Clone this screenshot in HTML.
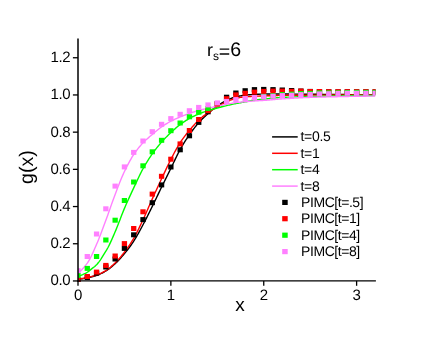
<!DOCTYPE html>
<html><head><meta charset="utf-8"><title>g(x)</title>
<style>html,body{margin:0;padding:0;background:#fff}svg{display:block;will-change:transform}text{font-family:"Liberation Sans",sans-serif;fill:#000;text-rendering:geometricPrecision}</style></head><body>
<svg width="436" height="337" viewBox="0 0 436 337">
<rect x="0" y="0" width="436" height="337" fill="#ffffff"/>
<defs><clipPath id="c"><rect x="78.0" y="38.5" width="297.6" height="243.5"/></clipPath></defs>
<g clip-path="url(#c)">
<polyline fill="none" stroke="#000000" stroke-width="1.4" stroke-linejoin="round" points="78.00,279.51 78.93,279.38 79.86,279.23 80.79,279.08 81.71,278.92 82.64,278.76 83.57,278.58 84.50,278.41 85.43,278.22 86.36,278.03 87.29,277.83 88.22,277.63 89.14,277.43 90.07,277.22 91.00,277.00 91.93,276.77 92.86,276.53 93.79,276.27 94.72,276.00 95.65,275.72 96.57,275.41 97.50,275.08 98.43,274.72 99.36,274.34 100.29,273.92 101.22,273.48 102.15,273.01 103.07,272.53 104.00,272.02 104.93,271.49 105.86,270.95 106.79,270.37 107.72,269.75 108.65,269.09 109.58,268.40 110.50,267.68 111.43,266.92 112.36,266.14 113.29,265.34 114.22,264.52 115.15,263.68 116.08,262.82 117.01,261.91 117.93,260.97 118.86,260.00 119.79,258.99 120.72,257.96 121.65,256.91 122.58,255.83 123.51,254.74 124.44,253.63 125.36,252.50 126.29,251.36 127.22,250.19 128.15,248.99 129.08,247.77 130.01,246.52 130.94,245.23 131.86,243.91 132.79,242.55 133.72,241.15 134.65,239.70 135.58,238.19 136.51,236.62 137.44,235.01 138.37,233.36 139.29,231.67 140.22,229.96 141.15,228.24 142.08,226.50 143.01,224.77 143.94,223.02 144.87,221.23 145.80,219.42 146.72,217.59 147.65,215.73 148.58,213.86 149.51,211.99 150.44,210.10 151.37,208.22 152.30,206.33 153.22,204.45 154.15,202.54 155.08,200.62 156.01,198.70 156.94,196.77 157.87,194.84 158.80,192.91 159.73,190.98 160.65,189.06 161.58,187.16 162.51,185.26 163.44,183.37 164.37,181.49 165.30,179.61 166.23,177.73 167.16,175.85 168.08,173.98 169.01,172.10 169.94,170.23 170.87,168.35 171.80,166.45 172.73,164.52 173.66,162.57 174.58,160.62 175.51,158.67 176.44,156.75 177.37,154.86 178.30,153.02 179.23,151.25 180.16,149.54 181.09,147.90 182.01,146.29 182.94,144.72 183.87,143.18 184.80,141.67 185.73,140.20 186.66,138.76 187.59,137.36 188.52,135.99 189.44,134.65 190.37,133.33 191.30,132.04 192.23,130.78 193.16,129.54 194.09,128.33 195.02,127.14 195.94,125.99 196.87,124.87 197.80,123.78 198.73,122.73 199.66,121.71 200.59,120.72 201.52,119.76 202.45,118.83 203.37,117.92 204.30,117.02 205.23,116.15 206.16,115.29 207.09,114.44 208.02,113.61 208.95,112.78 209.88,111.95 210.80,111.14 211.73,110.34 212.66,109.56 213.59,108.79 214.52,108.05 215.45,107.33 216.38,106.63 217.31,105.97 218.23,105.33 219.16,104.70 220.09,104.09 221.02,103.49 221.95,102.91 222.88,102.36 223.81,101.82 224.73,101.31 225.66,100.84 226.59,100.39 227.52,99.96 228.45,99.54 229.38,99.13 230.31,98.74 231.24,98.36 232.16,98.01 233.09,97.67 234.02,97.37 234.95,97.09 235.88,96.85 236.81,96.63 237.74,96.42 238.67,96.22 239.59,96.03 240.52,95.85 241.45,95.69 242.38,95.54 243.31,95.41 244.24,95.28 245.17,95.17 246.09,95.07 247.02,94.98 247.95,94.89 248.88,94.81 249.81,94.73 250.74,94.66 251.67,94.60 252.60,94.54 253.52,94.48 254.45,94.43 255.38,94.38 256.31,94.33 257.24,94.27 258.17,94.23 259.10,94.18 260.03,94.14 260.95,94.10 261.88,94.08 262.81,94.06 263.74,94.06 264.67,94.06 265.60,94.06 266.53,94.06 267.45,94.06 268.38,94.06 269.31,94.06 270.24,94.06 271.17,94.06 272.10,94.06 273.03,94.06 273.96,94.06 274.88,94.06 275.81,94.06 276.74,94.06 277.67,94.06 278.60,94.06 279.53,94.06 280.46,94.06 281.39,94.06 282.31,94.06 283.24,94.06 284.17,94.06 285.10,94.06 286.03,94.06 286.96,94.06 287.89,94.07 288.81,94.07 289.74,94.08 290.67,94.08 291.60,94.09 292.53,94.09 293.46,94.10 294.39,94.11 295.32,94.12 296.24,94.12 297.17,94.13 298.10,94.14 299.03,94.15 299.96,94.16 300.89,94.16 301.82,94.17 302.75,94.18 303.67,94.19 304.60,94.20 305.53,94.20 306.46,94.21 307.39,94.22 308.32,94.23 309.25,94.23 310.18,94.24 311.10,94.25 312.03,94.26 312.96,94.26 313.89,94.27 314.82,94.28 315.75,94.29 316.68,94.30 317.60,94.30 318.53,94.31 319.46,94.32 320.39,94.33 321.32,94.34 322.25,94.35 323.18,94.36 324.11,94.37 325.03,94.38 325.96,94.39 326.89,94.40 327.82,94.41 328.75,94.42 329.68,94.43 330.61,94.44 331.54,94.45 332.46,94.46 333.39,94.47 334.32,94.48 335.25,94.49 336.18,94.50 337.11,94.51 338.04,94.51 338.96,94.52 339.89,94.53 340.82,94.54 341.75,94.55 342.68,94.55 343.61,94.56 344.54,94.57 345.47,94.57 346.39,94.58 347.32,94.59 348.25,94.59 349.18,94.60 350.11,94.60 351.04,94.60 351.97,94.61 352.90,94.61 353.82,94.61 354.75,94.61 355.68,94.61 356.61,94.61 357.54,94.61 358.47,94.61 359.40,94.61 360.32,94.61 361.25,94.61 362.18,94.61 363.11,94.61 364.04,94.61 364.97,94.61 365.90,94.61 366.83,94.61 367.75,94.61 368.68,94.61 369.61,94.61 370.54,94.61 371.47,94.61 372.40,94.61 373.33,94.61 374.26,94.61 375.18,94.61"/>
<polyline fill="none" stroke="#ff0000" stroke-width="1.4" stroke-linejoin="round" points="78.00,279.14 78.93,279.00 79.86,278.86 80.79,278.71 81.71,278.55 82.64,278.38 83.57,278.21 84.50,278.03 85.43,277.85 86.36,277.66 87.29,277.46 88.22,277.26 89.14,277.06 90.07,276.85 91.00,276.63 91.93,276.40 92.86,276.16 93.79,275.90 94.72,275.63 95.65,275.35 96.57,275.04 97.50,274.71 98.43,274.36 99.36,273.97 100.29,273.56 101.22,273.12 102.15,272.66 103.07,272.17 104.00,271.66 104.93,271.13 105.86,270.57 106.79,269.98 107.72,269.34 108.65,268.66 109.58,267.93 110.50,267.17 111.43,266.37 112.36,265.55 113.29,264.70 114.22,263.83 115.15,262.94 116.08,262.02 117.01,261.06 117.93,260.05 118.86,259.01 119.79,257.93 120.72,256.83 121.65,255.69 122.58,254.53 123.51,253.34 124.44,252.14 125.36,250.91 126.29,249.66 127.22,248.38 128.15,247.07 129.08,245.72 130.01,244.33 130.94,242.90 131.86,241.43 132.79,239.92 133.72,238.36 134.65,236.73 135.58,235.03 136.51,233.25 137.44,231.41 138.37,229.53 139.29,227.61 140.22,225.66 141.15,223.69 142.08,221.71 143.01,219.74 143.94,217.75 144.87,215.71 145.80,213.63 146.72,211.53 147.65,209.41 148.58,207.29 149.51,205.16 150.44,203.05 151.37,200.95 152.30,198.89 153.22,196.84 154.15,194.80 155.08,192.78 156.01,190.75 156.94,188.74 157.87,186.73 158.80,184.73 159.73,182.74 160.65,180.75 161.58,178.78 162.51,176.80 163.44,174.81 164.37,172.83 165.30,170.84 166.23,168.87 167.16,166.92 168.08,164.99 169.01,163.09 169.94,161.23 170.87,159.41 171.80,157.61 172.73,155.82 173.66,154.04 174.58,152.29 175.51,150.56 176.44,148.87 177.37,147.23 178.30,145.64 179.23,144.11 180.16,142.65 181.09,141.26 182.01,139.92 182.94,138.62 183.87,137.36 184.80,136.13 185.73,134.94 186.66,133.77 187.59,132.62 188.52,131.49 189.44,130.36 190.37,129.25 191.30,128.15 192.23,127.05 193.16,125.98 194.09,124.93 195.02,123.90 195.94,122.90 196.87,121.93 197.80,121.01 198.73,120.12 199.66,119.27 200.59,118.45 201.52,117.66 202.45,116.88 203.37,116.13 204.30,115.41 205.23,114.70 206.16,114.01 207.09,113.33 208.02,112.68 208.95,112.04 209.88,111.41 210.80,110.81 211.73,110.22 212.66,109.65 213.59,109.08 214.52,108.53 215.45,107.98 216.38,107.44 217.31,106.90 218.23,106.36 219.16,105.83 220.09,105.29 221.02,104.76 221.95,104.24 222.88,103.73 223.81,103.23 224.73,102.76 225.66,102.30 226.59,101.88 227.52,101.46 228.45,101.04 229.38,100.63 230.31,100.23 231.24,99.85 232.16,99.49 233.09,99.15 234.02,98.84 234.95,98.57 235.88,98.34 236.81,98.13 237.74,97.94 238.67,97.76 239.59,97.59 240.52,97.43 241.45,97.29 242.38,97.16 243.31,97.04 244.24,96.94 245.17,96.85 246.09,96.77 247.02,96.70 247.95,96.64 248.88,96.58 249.81,96.52 250.74,96.47 251.67,96.42 252.60,96.38 253.52,96.33 254.45,96.29 255.38,96.25 256.31,96.20 257.24,96.16 258.17,96.13 259.10,96.09 260.03,96.05 260.95,96.02 261.88,95.98 262.81,95.95 263.74,95.92 264.67,95.88 265.60,95.85 266.53,95.82 267.45,95.78 268.38,95.75 269.31,95.71 270.24,95.68 271.17,95.65 272.10,95.61 273.03,95.58 273.96,95.55 274.88,95.52 275.81,95.50 276.74,95.47 277.67,95.45 278.60,95.42 279.53,95.40 280.46,95.39 281.39,95.37 282.31,95.36 283.24,95.35 284.17,95.34 285.10,95.33 286.03,95.32 286.96,95.31 287.89,95.30 288.81,95.30 289.74,95.29 290.67,95.28 291.60,95.27 292.53,95.27 293.46,95.26 294.39,95.25 295.32,95.25 296.24,95.24 297.17,95.24 298.10,95.23 299.03,95.23 299.96,95.22 300.89,95.22 301.82,95.21 302.75,95.21 303.67,95.20 304.60,95.20 305.53,95.20 306.46,95.19 307.39,95.19 308.32,95.18 309.25,95.18 310.18,95.17 311.10,95.17 312.03,95.16 312.96,95.16 313.89,95.15 314.82,95.15 315.75,95.14 316.68,95.14 317.60,95.13 318.53,95.13 319.46,95.12 320.39,95.12 321.32,95.11 322.25,95.11 323.18,95.10 324.11,95.10 325.03,95.09 325.96,95.09 326.89,95.08 327.82,95.08 328.75,95.07 329.68,95.07 330.61,95.06 331.54,95.06 332.46,95.05 333.39,95.05 334.32,95.05 335.25,95.04 336.18,95.04 337.11,95.03 338.04,95.03 338.96,95.03 339.89,95.02 340.82,95.02 341.75,95.01 342.68,95.01 343.61,95.01 344.54,95.01 345.47,95.00 346.39,95.00 347.32,95.00 348.25,95.00 349.18,94.99 350.11,94.99 351.04,94.99 351.97,94.99 352.90,94.99 353.82,94.99 354.75,94.99 355.68,94.99 356.61,94.99 357.54,94.99 358.47,94.99 359.40,94.99 360.32,94.99 361.25,94.99 362.18,94.99 363.11,94.99 364.04,94.99 364.97,94.99 365.90,94.99 366.83,94.99 367.75,94.99 368.68,94.99 369.61,94.99 370.54,94.99 371.47,94.99 372.40,94.99 373.33,94.99 374.26,94.99 375.18,94.99"/>
<polyline fill="none" stroke="#00ff00" stroke-width="1.4" stroke-linejoin="round" points="78.00,275.97 78.93,275.82 79.86,275.59 80.79,275.31 81.71,274.98 82.64,274.60 83.57,274.18 84.50,273.73 85.43,273.26 86.36,272.76 87.29,272.25 88.22,271.65 89.14,270.92 90.07,270.14 91.00,269.36 91.93,268.63 92.86,267.91 93.79,267.18 94.72,266.42 95.65,265.60 96.57,264.71 97.50,263.70 98.43,262.56 99.36,261.34 100.29,260.05 101.22,258.66 102.15,257.15 103.07,255.59 104.00,254.08 104.93,252.63 105.86,251.19 106.79,249.67 107.72,248.01 108.65,246.23 109.58,244.35 110.50,242.39 111.43,240.36 112.36,238.27 113.29,236.15 114.22,234.00 115.15,231.84 116.08,229.64 117.01,227.34 117.93,224.98 118.86,222.58 119.79,220.15 120.72,217.72 121.65,215.31 122.58,212.93 123.51,210.62 124.44,208.38 125.36,206.22 126.29,204.09 127.22,201.99 128.15,199.92 129.08,197.88 130.01,195.86 130.94,193.86 131.86,191.87 132.79,189.88 133.72,187.90 134.65,185.91 135.58,183.91 136.51,181.90 137.44,179.91 138.37,177.93 139.29,175.99 140.22,174.08 141.15,172.23 142.08,170.44 143.01,168.72 143.94,167.06 144.87,165.45 145.80,163.87 146.72,162.32 147.65,160.82 148.58,159.35 149.51,157.92 150.44,156.52 151.37,155.15 152.30,153.83 153.22,152.53 154.15,151.26 155.08,150.02 156.01,148.81 156.94,147.63 157.87,146.48 158.80,145.34 159.73,144.24 160.65,143.16 161.58,142.09 162.51,141.06 163.44,140.04 164.37,139.05 165.30,138.07 166.23,137.12 167.16,136.18 168.08,135.27 169.01,134.36 169.94,133.47 170.87,132.60 171.80,131.73 172.73,130.88 173.66,130.03 174.58,129.20 175.51,128.38 176.44,127.58 177.37,126.80 178.30,126.04 179.23,125.30 180.16,124.59 181.09,123.90 182.01,123.23 182.94,122.57 183.87,121.92 184.80,121.30 185.73,120.69 186.66,120.10 187.59,119.53 188.52,118.98 189.44,118.45 190.37,117.94 191.30,117.44 192.23,116.96 193.16,116.50 194.09,116.05 195.02,115.61 195.94,115.18 196.87,114.77 197.80,114.37 198.73,113.98 199.66,113.60 200.59,113.23 201.52,112.88 202.45,112.53 203.37,112.19 204.30,111.86 205.23,111.54 206.16,111.23 207.09,110.92 208.02,110.63 208.95,110.34 209.88,110.06 210.80,109.79 211.73,109.53 212.66,109.27 213.59,109.02 214.52,108.77 215.45,108.52 216.38,108.27 217.31,108.02 218.23,107.77 219.16,107.52 220.09,107.27 221.02,107.02 221.95,106.77 222.88,106.53 223.81,106.29 224.73,106.06 225.66,105.82 226.59,105.60 227.52,105.38 228.45,105.16 229.38,104.95 230.31,104.74 231.24,104.53 232.16,104.32 233.09,104.12 234.02,103.93 234.95,103.74 235.88,103.55 236.81,103.37 237.74,103.20 238.67,103.03 239.59,102.87 240.52,102.70 241.45,102.54 242.38,102.38 243.31,102.22 244.24,102.05 245.17,101.88 246.09,101.69 247.02,101.50 247.95,101.29 248.88,101.09 249.81,100.88 250.74,100.68 251.67,100.49 252.60,100.31 253.52,100.15 254.45,100.01 255.38,99.89 256.31,99.79 257.24,99.69 258.17,99.59 259.10,99.50 260.03,99.42 260.95,99.34 261.88,99.25 262.81,99.17 263.74,99.08 264.67,98.99 265.60,98.90 266.53,98.81 267.45,98.71 268.38,98.62 269.31,98.52 270.24,98.42 271.17,98.33 272.10,98.23 273.03,98.14 273.96,98.05 274.88,97.96 275.81,97.88 276.74,97.79 277.67,97.72 278.60,97.64 279.53,97.58 280.46,97.51 281.39,97.46 282.31,97.41 283.24,97.36 284.17,97.32 285.10,97.27 286.03,97.23 286.96,97.19 287.89,97.15 288.81,97.12 289.74,97.08 290.67,97.04 291.60,97.01 292.53,96.98 293.46,96.94 294.39,96.91 295.32,96.88 296.24,96.85 297.17,96.82 298.10,96.80 299.03,96.77 299.96,96.74 300.89,96.72 301.82,96.69 302.75,96.67 303.67,96.64 304.60,96.62 305.53,96.59 306.46,96.57 307.39,96.55 308.32,96.52 309.25,96.50 310.18,96.48 311.10,96.45 312.03,96.43 312.96,96.41 313.89,96.39 314.82,96.37 315.75,96.35 316.68,96.33 317.60,96.31 318.53,96.29 319.46,96.27 320.39,96.25 321.32,96.23 322.25,96.21 323.18,96.20 324.11,96.18 325.03,96.16 325.96,96.14 326.89,96.13 327.82,96.11 328.75,96.09 329.68,96.08 330.61,96.06 331.54,96.04 332.46,96.02 333.39,96.01 334.32,95.99 335.25,95.97 336.18,95.95 337.11,95.94 338.04,95.92 338.96,95.90 339.89,95.88 340.82,95.85 341.75,95.83 342.68,95.81 343.61,95.78 344.54,95.76 345.47,95.73 346.39,95.71 347.32,95.68 348.25,95.66 349.18,95.64 350.11,95.62 351.04,95.60 351.97,95.59 352.90,95.57 353.82,95.56 354.75,95.55 355.68,95.55 356.61,95.54 357.54,95.54 358.47,95.54 359.40,95.54 360.32,95.54 361.25,95.54 362.18,95.54 363.11,95.54 364.04,95.54 364.97,95.54 365.90,95.54 366.83,95.54 367.75,95.54 368.68,95.54 369.61,95.54 370.54,95.54 371.47,95.54 372.40,95.54 373.33,95.54 374.26,95.54 375.18,95.54"/>
<polyline fill="none" stroke="#ff80ff" stroke-width="1.4" stroke-linejoin="round" points="78.00,272.62 78.93,272.08 79.86,271.42 80.79,270.65 81.71,269.79 82.64,268.85 83.57,267.82 84.50,266.73 85.43,265.57 86.36,264.37 87.29,263.12 88.22,261.77 89.14,260.23 90.07,258.54 91.00,256.71 91.93,254.78 92.86,252.76 93.79,250.69 94.72,248.57 95.65,246.44 96.57,244.32 97.50,242.16 98.43,239.92 99.36,237.60 100.29,235.22 101.22,232.79 102.15,230.32 103.07,227.82 104.00,225.31 104.93,222.80 105.86,220.30 106.79,217.77 107.72,215.20 108.65,212.58 109.58,209.93 110.50,207.28 111.43,204.63 112.36,202.01 113.29,199.42 114.22,196.89 115.15,194.42 116.08,191.98 117.01,189.55 117.93,187.12 118.86,184.73 119.79,182.36 120.72,180.05 121.65,177.79 122.58,175.61 123.51,173.51 124.44,171.51 125.36,169.59 126.29,167.70 127.22,165.86 128.15,164.08 129.08,162.34 130.01,160.66 130.94,159.04 131.86,157.48 132.79,155.99 133.72,154.57 134.65,153.21 135.58,151.89 136.51,150.61 137.44,149.38 138.37,148.19 139.29,147.05 140.22,145.94 141.15,144.87 142.08,143.84 143.01,142.84 143.94,141.89 144.87,140.97 145.80,140.10 146.72,139.25 147.65,138.43 148.58,137.62 149.51,136.83 150.44,136.04 151.37,135.25 152.30,134.46 153.22,133.66 154.15,132.85 155.08,132.04 156.01,131.24 156.94,130.45 157.87,129.68 158.80,128.92 159.73,128.19 160.65,127.49 161.58,126.83 162.51,126.19 163.44,125.57 164.37,124.98 165.30,124.40 166.23,123.83 167.16,123.29 168.08,122.75 169.01,122.24 169.94,121.73 170.87,121.24 171.80,120.76 172.73,120.30 173.66,119.85 174.58,119.41 175.51,118.98 176.44,118.56 177.37,118.15 178.30,117.74 179.23,117.35 180.16,116.96 181.09,116.57 182.01,116.20 182.94,115.83 183.87,115.47 184.80,115.11 185.73,114.76 186.66,114.42 187.59,114.08 188.52,113.75 189.44,113.42 190.37,113.10 191.30,112.78 192.23,112.46 193.16,112.15 194.09,111.85 195.02,111.55 195.94,111.26 196.87,110.97 197.80,110.70 198.73,110.44 199.66,110.19 200.59,109.95 201.52,109.72 202.45,109.49 203.37,109.27 204.30,109.06 205.23,108.84 206.16,108.63 207.09,108.42 208.02,108.21 208.95,107.99 209.88,107.78 210.80,107.57 211.73,107.36 212.66,107.16 213.59,106.95 214.52,106.75 215.45,106.55 216.38,106.35 217.31,106.16 218.23,105.96 219.16,105.77 220.09,105.58 221.02,105.39 221.95,105.20 222.88,105.02 223.81,104.83 224.73,104.65 225.66,104.47 226.59,104.30 227.52,104.12 228.45,103.93 229.38,103.75 230.31,103.57 231.24,103.39 232.16,103.21 233.09,103.05 234.02,102.89 234.95,102.75 235.88,102.62 236.81,102.50 237.74,102.40 238.67,102.30 239.59,102.20 240.52,102.11 241.45,102.02 242.38,101.94 243.31,101.85 244.24,101.77 245.17,101.69 246.09,101.61 247.02,101.53 247.95,101.45 248.88,101.37 249.81,101.29 250.74,101.22 251.67,101.15 252.60,101.08 253.52,101.01 254.45,100.94 255.38,100.88 256.31,100.82 257.24,100.77 258.17,100.72 259.10,100.66 260.03,100.61 260.95,100.56 261.88,100.50 262.81,100.45 263.74,100.39 264.67,100.32 265.60,100.25 266.53,100.18 267.45,100.11 268.38,100.03 269.31,99.96 270.24,99.88 271.17,99.80 272.10,99.72 273.03,99.64 273.96,99.55 274.88,99.47 275.81,99.39 276.74,99.32 277.67,99.24 278.60,99.17 279.53,99.09 280.46,99.02 281.39,98.96 282.31,98.90 283.24,98.84 284.17,98.78 285.10,98.72 286.03,98.66 286.96,98.60 287.89,98.54 288.81,98.48 289.74,98.43 290.67,98.37 291.60,98.32 292.53,98.26 293.46,98.21 294.39,98.15 295.32,98.10 296.24,98.05 297.17,98.00 298.10,97.95 299.03,97.90 299.96,97.85 300.89,97.81 301.82,97.76 302.75,97.72 303.67,97.67 304.60,97.63 305.53,97.59 306.46,97.55 307.39,97.51 308.32,97.48 309.25,97.44 310.18,97.41 311.10,97.37 312.03,97.34 312.96,97.31 313.89,97.28 314.82,97.25 315.75,97.22 316.68,97.19 317.60,97.17 318.53,97.14 319.46,97.11 320.39,97.09 321.32,97.06 322.25,97.04 323.18,97.01 324.11,96.99 325.03,96.97 325.96,96.94 326.89,96.92 327.82,96.90 328.75,96.88 329.68,96.85 330.61,96.83 331.54,96.81 332.46,96.79 333.39,96.77 334.32,96.75 335.25,96.73 336.18,96.70 337.11,96.68 338.04,96.66 338.96,96.64 339.89,96.62 340.82,96.60 341.75,96.58 342.68,96.56 343.61,96.54 344.54,96.51 345.47,96.49 346.39,96.47 347.32,96.45 348.25,96.43 349.18,96.42 350.11,96.40 351.04,96.38 351.97,96.36 352.90,96.35 353.82,96.33 354.75,96.32 355.68,96.30 356.61,96.29 357.54,96.28 358.47,96.27 359.40,96.25 360.32,96.24 361.25,96.23 362.18,96.22 363.11,96.21 364.04,96.20 364.97,96.19 365.90,96.18 366.83,96.17 367.75,96.16 368.68,96.15 369.61,96.14 370.54,96.13 371.47,96.13 372.40,96.12 373.33,96.11 374.26,96.11 375.18,96.10"/>
<g fill="#000000"><rect x="75.35" y="277.80" width="5.3" height="5.0"/><rect x="84.64" y="275.00" width="5.3" height="5.0"/><rect x="93.92" y="270.70" width="5.3" height="5.0"/><rect x="103.21" y="264.50" width="5.3" height="5.0"/><rect x="112.50" y="256.50" width="5.3" height="5.0"/><rect x="121.78" y="245.90" width="5.3" height="5.0"/><rect x="131.07" y="232.30" width="5.3" height="5.0"/><rect x="140.36" y="217.10" width="5.3" height="5.0"/><rect x="149.65" y="200.20" width="5.3" height="5.0"/><rect x="158.93" y="182.40" width="5.3" height="5.0"/><rect x="168.22" y="164.50" width="5.3" height="5.0"/><rect x="177.51" y="147.30" width="5.3" height="5.0"/><rect x="186.79" y="133.30" width="5.3" height="5.0"/><rect x="196.08" y="119.90" width="5.3" height="5.0"/><rect x="205.37" y="109.30" width="5.3" height="5.0"/><rect x="214.66" y="101.10" width="5.3" height="5.0"/><rect x="223.94" y="94.70" width="5.3" height="5.0"/><rect x="233.23" y="90.50" width="5.3" height="5.0"/><rect x="242.52" y="88.20" width="5.3" height="5.0"/><rect x="251.80" y="87.10" width="5.3" height="5.0"/><rect x="261.09" y="86.90" width="5.3" height="5.0"/><rect x="270.38" y="87.10" width="5.3" height="5.0"/><rect x="279.66" y="87.50" width="5.3" height="5.0"/><rect x="288.95" y="88.00" width="5.3" height="5.0"/><rect x="298.24" y="88.50" width="5.3" height="5.0"/><rect x="307.53" y="88.90" width="5.3" height="5.0"/><rect x="316.81" y="89.10" width="5.3" height="5.0"/><rect x="326.10" y="89.30" width="5.3" height="5.0"/><rect x="335.39" y="89.40" width="5.3" height="5.0"/><rect x="344.67" y="89.30" width="5.3" height="5.0"/><rect x="353.96" y="89.30" width="5.3" height="5.0"/><rect x="363.25" y="89.30" width="5.3" height="5.0"/><rect x="372.53" y="89.30" width="5.3" height="5.0"/></g>
<g fill="#ff0000"><rect x="75.35" y="276.80" width="5.3" height="5.0"/><rect x="84.64" y="274.00" width="5.3" height="5.0"/><rect x="93.92" y="269.60" width="5.3" height="5.0"/><rect x="103.21" y="262.90" width="5.3" height="5.0"/><rect x="112.50" y="253.50" width="5.3" height="5.0"/><rect x="121.78" y="241.10" width="5.3" height="5.0"/><rect x="131.07" y="226.00" width="5.3" height="5.0"/><rect x="140.36" y="209.30" width="5.3" height="5.0"/><rect x="149.65" y="191.60" width="5.3" height="5.0"/><rect x="158.93" y="173.80" width="5.3" height="5.0"/><rect x="168.22" y="156.70" width="5.3" height="5.0"/><rect x="177.51" y="141.40" width="5.3" height="5.0"/><rect x="186.79" y="128.00" width="5.3" height="5.0"/><rect x="196.08" y="117.00" width="5.3" height="5.0"/><rect x="205.37" y="108.20" width="5.3" height="5.0"/><rect x="214.66" y="101.50" width="5.3" height="5.0"/><rect x="223.94" y="96.20" width="5.3" height="5.0"/><rect x="233.23" y="92.40" width="5.3" height="5.0"/><rect x="242.52" y="90.80" width="5.3" height="5.0"/><rect x="251.80" y="89.60" width="5.3" height="5.0"/><rect x="261.09" y="88.90" width="5.3" height="5.0"/><rect x="270.38" y="88.60" width="5.3" height="5.0"/><rect x="279.66" y="88.60" width="5.3" height="5.0"/><rect x="288.95" y="88.80" width="5.3" height="5.0"/><rect x="298.24" y="88.60" width="5.3" height="5.0"/><rect x="307.53" y="89.00" width="5.3" height="5.0"/><rect x="316.81" y="89.00" width="5.3" height="5.0"/><rect x="326.10" y="89.20" width="5.3" height="5.0"/><rect x="335.39" y="89.20" width="5.3" height="5.0"/><rect x="344.67" y="89.20" width="5.3" height="5.0"/><rect x="353.96" y="89.20" width="5.3" height="5.0"/><rect x="363.25" y="89.20" width="5.3" height="5.0"/><rect x="372.53" y="89.20" width="5.3" height="5.0"/></g>
<g fill="#00ff00"><rect x="75.35" y="272.90" width="5.3" height="5.0"/><rect x="84.64" y="265.90" width="5.3" height="5.0"/><rect x="93.92" y="254.00" width="5.3" height="5.0"/><rect x="103.21" y="237.50" width="5.3" height="5.0"/><rect x="112.50" y="217.70" width="5.3" height="5.0"/><rect x="121.78" y="198.00" width="5.3" height="5.0"/><rect x="131.07" y="179.50" width="5.3" height="5.0"/><rect x="140.36" y="163.30" width="5.3" height="5.0"/><rect x="149.65" y="149.30" width="5.3" height="5.0"/><rect x="158.93" y="137.80" width="5.3" height="5.0"/><rect x="168.22" y="128.20" width="5.3" height="5.0"/><rect x="177.51" y="120.50" width="5.3" height="5.0"/><rect x="186.79" y="114.30" width="5.3" height="5.0"/><rect x="196.08" y="109.70" width="5.3" height="5.0"/><rect x="205.37" y="106.00" width="5.3" height="5.0"/><rect x="261.09" y="93.90" width="5.3" height="5.0"/><rect x="270.38" y="93.20" width="5.3" height="5.0"/><rect x="279.66" y="92.10" width="5.3" height="5.0"/><rect x="288.95" y="91.60" width="5.3" height="5.0"/><rect x="298.24" y="91.00" width="5.3" height="5.0"/><rect x="307.53" y="90.90" width="5.3" height="5.0"/><rect x="316.81" y="90.40" width="5.3" height="5.0"/><rect x="326.10" y="90.40" width="5.3" height="5.0"/><rect x="335.39" y="90.30" width="5.3" height="5.0"/><rect x="344.67" y="90.00" width="5.3" height="5.0"/><rect x="353.96" y="89.90" width="5.3" height="5.0"/><rect x="363.25" y="89.90" width="5.3" height="5.0"/><rect x="372.53" y="89.90" width="5.3" height="5.0"/></g>
<g fill="#ff80ff"><rect x="75.35" y="268.20" width="5.3" height="5.0"/><rect x="84.64" y="254.00" width="5.3" height="5.0"/><rect x="93.92" y="231.50" width="5.3" height="5.0"/><rect x="103.21" y="206.30" width="5.3" height="5.0"/><rect x="112.50" y="183.60" width="5.3" height="5.0"/><rect x="121.78" y="164.40" width="5.3" height="5.0"/><rect x="131.07" y="149.90" width="5.3" height="5.0"/><rect x="140.36" y="138.50" width="5.3" height="5.0"/><rect x="149.65" y="129.20" width="5.3" height="5.0"/><rect x="158.93" y="121.80" width="5.3" height="5.0"/><rect x="168.22" y="116.10" width="5.3" height="5.0"/><rect x="177.51" y="111.80" width="5.3" height="5.0"/><rect x="186.79" y="108.20" width="5.3" height="5.0"/><rect x="196.08" y="104.90" width="5.3" height="5.0"/><rect x="205.37" y="102.40" width="5.3" height="5.0"/><rect x="214.66" y="100.40" width="5.3" height="5.0"/><rect x="223.94" y="98.90" width="5.3" height="5.0"/><rect x="233.23" y="97.10" width="5.3" height="5.0"/><rect x="242.52" y="96.00" width="5.3" height="5.0"/><rect x="251.80" y="95.00" width="5.3" height="5.0"/><rect x="261.09" y="94.30" width="5.3" height="5.0"/><rect x="270.38" y="93.70" width="5.3" height="5.0"/><rect x="279.66" y="93.10" width="5.3" height="5.0"/><rect x="288.95" y="92.70" width="5.3" height="5.0"/><rect x="298.24" y="92.10" width="5.3" height="5.0"/><rect x="307.53" y="91.90" width="5.3" height="5.0"/><rect x="316.81" y="91.40" width="5.3" height="5.0"/><rect x="326.10" y="91.20" width="5.3" height="5.0"/><rect x="335.39" y="90.90" width="5.3" height="5.0"/><rect x="344.67" y="90.70" width="5.3" height="5.0"/><rect x="353.96" y="90.70" width="5.3" height="5.0"/><rect x="363.25" y="90.70" width="5.3" height="5.0"/><rect x="372.53" y="90.70" width="5.3" height="5.0"/></g>
</g>
<g stroke="#000" stroke-width="1.5" fill="none" stroke-linecap="butt">
<line x1="78.00" y1="38.50" x2="78.00" y2="281.65"/>
<line x1="77.25" y1="280.90" x2="375.90" y2="280.90" stroke-width="1.4"/>
</g>
<g stroke="#000" stroke-width="1.3" fill="none" stroke-linecap="butt">
<line x1="78.00" y1="280.90" x2="78.00" y2="285.80"/>
<line x1="170.87" y1="280.90" x2="170.87" y2="285.80"/>
<line x1="263.74" y1="280.90" x2="263.74" y2="285.80"/>
<line x1="356.61" y1="280.90" x2="356.61" y2="285.80"/>
<line x1="78.00" y1="280.95" x2="72.90" y2="280.95"/>
<line x1="78.00" y1="243.75" x2="72.90" y2="243.75"/>
<line x1="78.00" y1="206.55" x2="72.90" y2="206.55"/>
<line x1="78.00" y1="169.35" x2="72.90" y2="169.35"/>
<line x1="78.00" y1="132.15" x2="72.90" y2="132.15"/>
<line x1="78.00" y1="94.95" x2="72.90" y2="94.95"/>
<line x1="78.00" y1="57.75" x2="72.90" y2="57.75"/>
</g>
<g font-size="15px" letter-spacing="-0.35">
<text x="70.3" y="285.45" text-anchor="end">0.0</text>
<text x="70.3" y="248.25" text-anchor="end">0.2</text>
<text x="70.3" y="211.05" text-anchor="end">0.4</text>
<text x="70.3" y="173.85" text-anchor="end">0.6</text>
<text x="70.3" y="136.65" text-anchor="end">0.8</text>
<text x="70.3" y="99.45" text-anchor="end">1.0</text>
<text x="70.3" y="62.25" text-anchor="end">1.2</text>
<text x="78.00" y="300.2" text-anchor="middle">0</text>
<text x="170.87" y="300.2" text-anchor="middle">1</text>
<text x="263.74" y="300.2" text-anchor="middle">2</text>
<text x="356.61" y="300.2" text-anchor="middle">3</text>
</g>
<text x="239.9" y="310.5" font-size="19px" text-anchor="middle">x</text>
<text transform="translate(32.7,167.1) rotate(-90)" font-size="19.6px" text-anchor="middle">g(x)</text>
<text x="207" y="56" font-size="18px">r<tspan font-size="12px" dy="3.5">s</tspan><tspan dy="-1.8" dx="-0.3" font-size="19.6px">=</tspan><tspan dy="-1.7" font-size="19.6px">6</tspan></text>
<g font-size="14px">
<line x1="272.1" y1="136.9" x2="297.7" y2="136.9" stroke="#000000" stroke-width="1.5"/>
<text x="300.5" y="141.3" letter-spacing="-0.3">t=0.5</text>
<line x1="272.1" y1="153.3" x2="297.7" y2="153.3" stroke="#ff0000" stroke-width="1.5"/>
<text x="300.5" y="157.7" letter-spacing="-0.3">t=1</text>
<line x1="272.1" y1="169.7" x2="297.7" y2="169.7" stroke="#00ff00" stroke-width="1.5"/>
<text x="300.5" y="174.1" letter-spacing="-0.3">t=4</text>
<line x1="272.1" y1="186.1" x2="297.7" y2="186.1" stroke="#ff80ff" stroke-width="1.5"/>
<text x="300.5" y="190.5" letter-spacing="-0.3">t=8</text>
<rect x="282.20" y="199.80" width="5.5" height="5.2" fill="#000000"/>
<text x="301.1" y="207.0" letter-spacing="-0.45">PIMC[t=.5]</text>
<rect x="282.20" y="216.10" width="5.5" height="5.2" fill="#ff0000"/>
<text x="301.1" y="223.3" letter-spacing="-0.45">PIMC[t=1]</text>
<rect x="282.20" y="232.60" width="5.5" height="5.2" fill="#00ff00"/>
<text x="301.1" y="239.8" letter-spacing="-0.45">PIMC[t=4]</text>
<rect x="282.20" y="249.00" width="5.5" height="5.2" fill="#ff80ff"/>
<text x="301.1" y="256.2" letter-spacing="-0.45">PIMC[t=8]</text>
</g>
</svg></body></html>
